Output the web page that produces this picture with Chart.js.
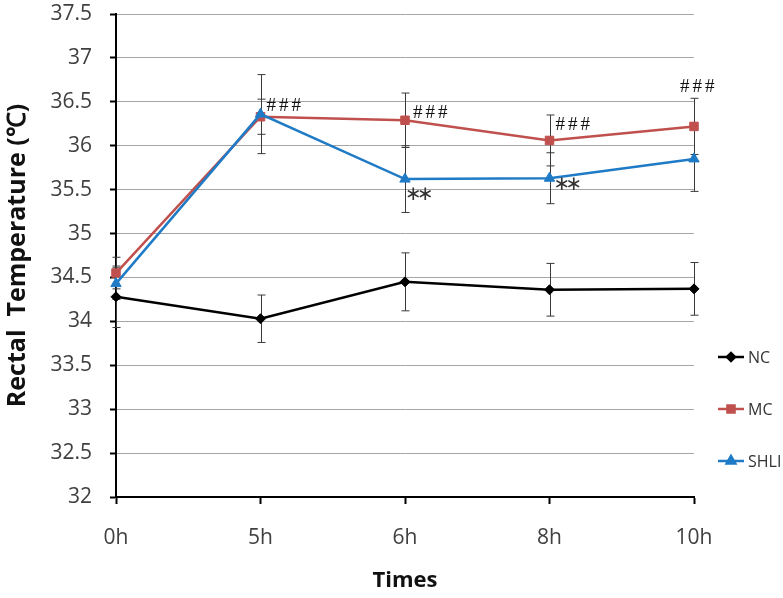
<!DOCTYPE html>
<html>
<head>
<meta charset="utf-8">
<script src="https://cdn.jsdelivr.net/npm/chart.js@4/dist/chart.umd.min.js"></script>
<style>
  html, body { margin: 0; padding: 0; background: #fff; }
  #wrap { width: 783px; height: 598px; }
</style>
</head>
<body>
<div id="wrap"><canvas id="canvas" width="783" height="598"></canvas></div>
<script>
// values
const times = ['0h', '5h', '6h', '8h', '10h'];
const nc = [34.28, 34.03, 34.45, 34.36, 34.37];
const ncErr = [0.35, 0.27, 0.33, 0.30, 0.30];
const mc = [34.55, 36.33, 36.29, 36.06, 36.22];
const mcErr = [0.18, 0.20, 0.31, 0.29, 0.32];
const shli = [34.43, 36.36, 35.62, 35.63, 35.85];
const shliErr = [0.18, 0.45, 0.38, 0.29, 0.37];
const yMin = 32, yMax = 37.5, yStep = 0.5;

// significance marks: [category index, value, dx, dy, text]
const marks = [
  [1, 36.33, 6, -11, '###'],
  [2, 36.29, 8, -7, '###'],
  [3, 36.06, 6, -15, '###'],
  [4, 36.22, -14, -39, '###'],
  [2, 35.62, 3, 16, '**'],
  [3, 35.63, 7, 7, '**']
];

const errorBars = {
  id: 'errorBars',
  beforeDatasetsDraw(chart) {
    const ctx = chart.ctx;
    const x = chart.scales.x, y = chart.scales.y;
    ctx.save();
    ctx.strokeStyle = '#3a3a3a';
    ctx.lineWidth = 1;
    chart.data.datasets.forEach(ds => {
      ds.data.forEach((v, i) => {
        const px = Math.round(x.getPixelForValue(i)) + 0.5;
        const top = y.getPixelForValue(v + ds.err[i]);
        const bot = y.getPixelForValue(v - ds.err[i]);
        ctx.beginPath();
        ctx.moveTo(px, top); ctx.lineTo(px, bot);
        ctx.moveTo(px - 4, top); ctx.lineTo(px + 4, top);
        ctx.moveTo(px - 4, bot); ctx.lineTo(px + 4, bot);
        ctx.stroke();
      });
    });
    ctx.restore();
  }
};

const extras = {
  id: 'extras',
  afterDraw(chart) {
    const ctx = chart.ctx;
    const x = chart.scales.x, y = chart.scales.y;
    ctx.save();
    ctx.textBaseline = 'middle';
    ctx.textAlign = 'left';
    marks.forEach(m => {
      const px = x.getPixelForValue(m[0]) + m[2];
      const py = y.getPixelForValue(m[1]) + m[3];
      if (m[4] === '**') {
        ctx.fillStyle = '#333';
        ctx.font = '20px "DejaVu Sans"';
        ctx.fillText('\u2217', px - 3, py);
        ctx.fillText('\u2217', px + 9, py);
      } else {
        ctx.fillStyle = '#111';
        ctx.font = '19px "Liberation Serif"';
        ctx.letterSpacing = '3px';
        ctx.fillText(m[4], px, py);
        ctx.letterSpacing = '0px';
      }
    });

    // legend on the right
    const lx = chart.chartArea.right + 24;
    const rows = [357, 409, 461];
    chart.data.datasets.forEach((ds, k) => {
      const ly = rows[k];
      ctx.strokeStyle = ds.borderColor;
      ctx.lineWidth = 2.5;
      ctx.beginPath();
      ctx.moveTo(lx, ly); ctx.lineTo(lx + 26, ly);
      ctx.stroke();
      Chart.helpers.drawPoint(ctx, {
        pointStyle: ds.pointStyle, radius: ds.pointRadius - 1, rotation: 0, borderWidth: 1
      }, lx + 13, ly);
      ctx.fillStyle = ds.borderColor;
      ctx.fill();
      ctx.fillStyle = '#333';
      ctx.font = '16px "Open Sans"';
      ctx.fillText(ds.label, lx + 30, ly + 1);
    });
    ctx.restore();
  }
};

function series(label, data, err, color, style, r, order) {
  return {
    label: label, data: data, err: err, order: order,
    borderColor: color, backgroundColor: color,
    pointBackgroundColor: color, pointBorderColor: color,
    pointStyle: style, pointRadius: r, pointBorderWidth: 1,
    borderWidth: 2.5, tension: 0, fill: false
  };
}

new Chart(document.getElementById('canvas').getContext('2d'), {
  type: 'line',
  data: {
    labels: times,
    datasets: [
      series('NC', nc, ncErr, '#000000', 'rectRot', 5, 3),
      series('MC', mc, mcErr, '#C0504D', 'rect', 6, 2),
      series('SHLI', shli, shliErr, '#1F7BC6', 'triangle', 6, 1)
    ]
  },
  options: {
    responsive: false,
    animation: false,
    layout: { padding: { top: 14, right: 89, left: 0, bottom: 0 } },
    plugins: { legend: { display: false }, tooltip: { enabled: false } },
    scales: {
      x: {
        offset: false,
        afterFit(s) { s.height = 101; s.paddingLeft = 0; s.paddingRight = 0; },
        grid: { drawOnChartArea: false, drawTicks: true, tickLength: 7, tickColor: '#000', tickWidth: 2 },
        border: { color: '#000', width: 2 },
        ticks: { color: '#404040', font: { family: 'Open Sans', size: 21 }, padding: 21 },
        title: { display: true, text: 'Times', color: '#111',
          font: { family: 'Open Sans', size: 22, weight: 'bold' }, padding: { top: 0, bottom: 4 } }
      },
      y: {
        min: yMin, max: yMax,
        afterFit(s) { s.width = 116; s.paddingTop = 0; s.paddingBottom = 0; },
        grid: { color: '#a6a6a6', lineWidth: 1, tickLength: 6, tickColor: '#000', tickWidth: 2 },
        border: { color: '#000', width: 2 },
        ticks: { stepSize: yStep, color: '#404040', font: { family: 'Open Sans', size: 21 }, padding: 18,
          callback: v => String(v) },
        title: { display: true, text: 'Rectal  Temperature (\u2103)', color: '#111',
          font: { family: 'Open Sans', size: 25, weight: 'bold' }, padding: { top: 3, bottom: 0 } }
      }
    }
  },
  plugins: [errorBars, extras]
});
</script>
</body>
</html>
